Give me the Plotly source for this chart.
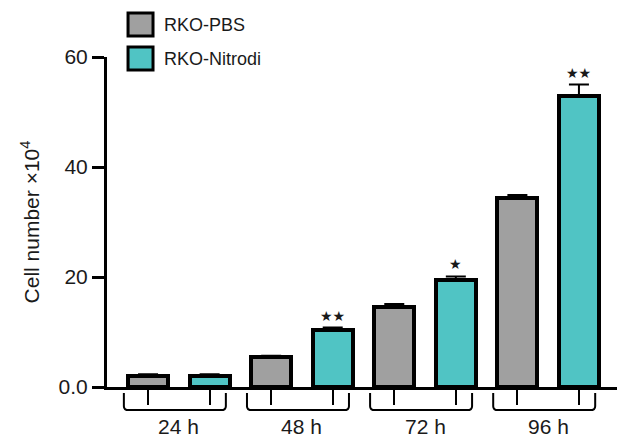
import plotly.graph_objects as go

groups = ["24 h", "48 h", "72 h", "96 h"]
series_names = ["RKO-PBS", "RKO-Nitrodi"]
pbs_values = [2.0, 5.4, 14.6, 34.4]
pbs_errors = [0.3, 0.3, 0.5, 0.5]
nitrodi_values = [2.0, 10.3, 19.4, 53.0]
nitrodi_errors = [0.3, 0.5, 0.7, 2.0]
nitrodi_marks = ["", "★★", "★", "★★"]
y_tickvals = [0, 20, 40, 60]
y_ticktext = ["0.0", "20", "40", "60"]

colors = ["#a0a0a0", "#50c4c4"]
FONT = "Liberation Sans, Arial, sans-serif"

pbs_x = [2 * i for i in range(len(groups))]
nit_x = [2 * i + 1 for i in range(len(groups))]

fig = go.Figure()
for xs, vals, errs, name, col in [
    (pbs_x, pbs_values, pbs_errors, series_names[0], colors[0]),
    (nit_x, nitrodi_values, nitrodi_errors, series_names[1], colors[1]),
]:
    fig.add_trace(go.Bar(
        x=xs, y=vals, name=name, width=0.65,
        marker=dict(color=col, line=dict(color="black", width=4)),
        error_y=dict(type="data", array=errs, arrayminus=[0] * len(errs),
                     symmetric=False, color="black", thickness=2, width=10),
        showlegend=False,
    ))

# significance marks
for x, v, e, m in zip(nit_x, nitrodi_values, nitrodi_errors, nitrodi_marks):
    if m:
        fig.add_annotation(x=x, y=v + e, text=m, showarrow=False, yanchor="bottom",
                           yshift=2, font=dict(size=14, color="#1a1a1a", family="DejaVu Sans"))

shapes = []
# group brackets and labels
for gi, g in enumerate(groups):
    c = 2 * gi + 0.5
    x0, x1 = c - 0.893, c + 0.764
    yt, yb = -0.018, -0.07
    r = 0.012
    dx = 0.08
    shapes.append(dict(
        type="path", xref="x", yref="paper",
        path=f"M {x0},{yt} L {x0},{yb + r} Q {x0},{yb} {x0 + dx},{yb} "
             f"L {x1 - dx},{yb} Q {x1},{yb} {x1},{yb + r} L {x1},{yt}",
        line=dict(color="black", width=2),
    ))
    fig.add_annotation(x=c, y=-0.121, xref="x", yref="paper", text=g, showarrow=False,
                       yanchor="middle", font=dict(size=21, color="#1a1a1a", family=FONT))

# manual legend
for i, (name, col) in enumerate(zip(series_names, colors)):
    ytop = 1.1333 - i * 0.1030
    shapes.append(dict(type="rect", xref="paper", yref="paper",
                       x0=0.041, x1=0.0897, y0=ytop - 0.0697, y1=ytop,
                       fillcolor=col, line=dict(color="black", width=3)))
    fig.add_annotation(x=0.107, y=ytop - 0.035, xref="paper", yref="paper", text=name,
                       showarrow=False, xanchor="left", yanchor="middle",
                       font=dict(size=18, color="#1a1a1a", family=FONT))

fig.update_layout(
    width=617, height=430,
    margin=dict(l=99, r=5, t=49, b=51),
    plot_bgcolor="white", paper_bgcolor="white",
    shapes=shapes,
    bargap=0,
    font=dict(family=FONT, size=20, color="#1a1a1a"),
    xaxis=dict(range=[-0.667, 7.667], tickvals=pbs_x + nit_x, ticktext=[""] * 8,
               ticks="outside", ticklen=15, tickwidth=2, tickcolor="black",
               showline=True, linecolor="black", linewidth=3, showgrid=False,
               zeroline=False),
    yaxis=dict(range=[0, 60], tickvals=y_tickvals, ticktext=y_ticktext,
               ticks="outside", ticklen=12, tickwidth=3, tickcolor="black",
               showline=True, linecolor="black", linewidth=3, showgrid=False,
               zeroline=False, tickfont=dict(size=21),
               title=dict(text="Cell number ×10<sup>4</sup>", font=dict(size=21), standoff=14)),
)

fig.write_html("out.html")
